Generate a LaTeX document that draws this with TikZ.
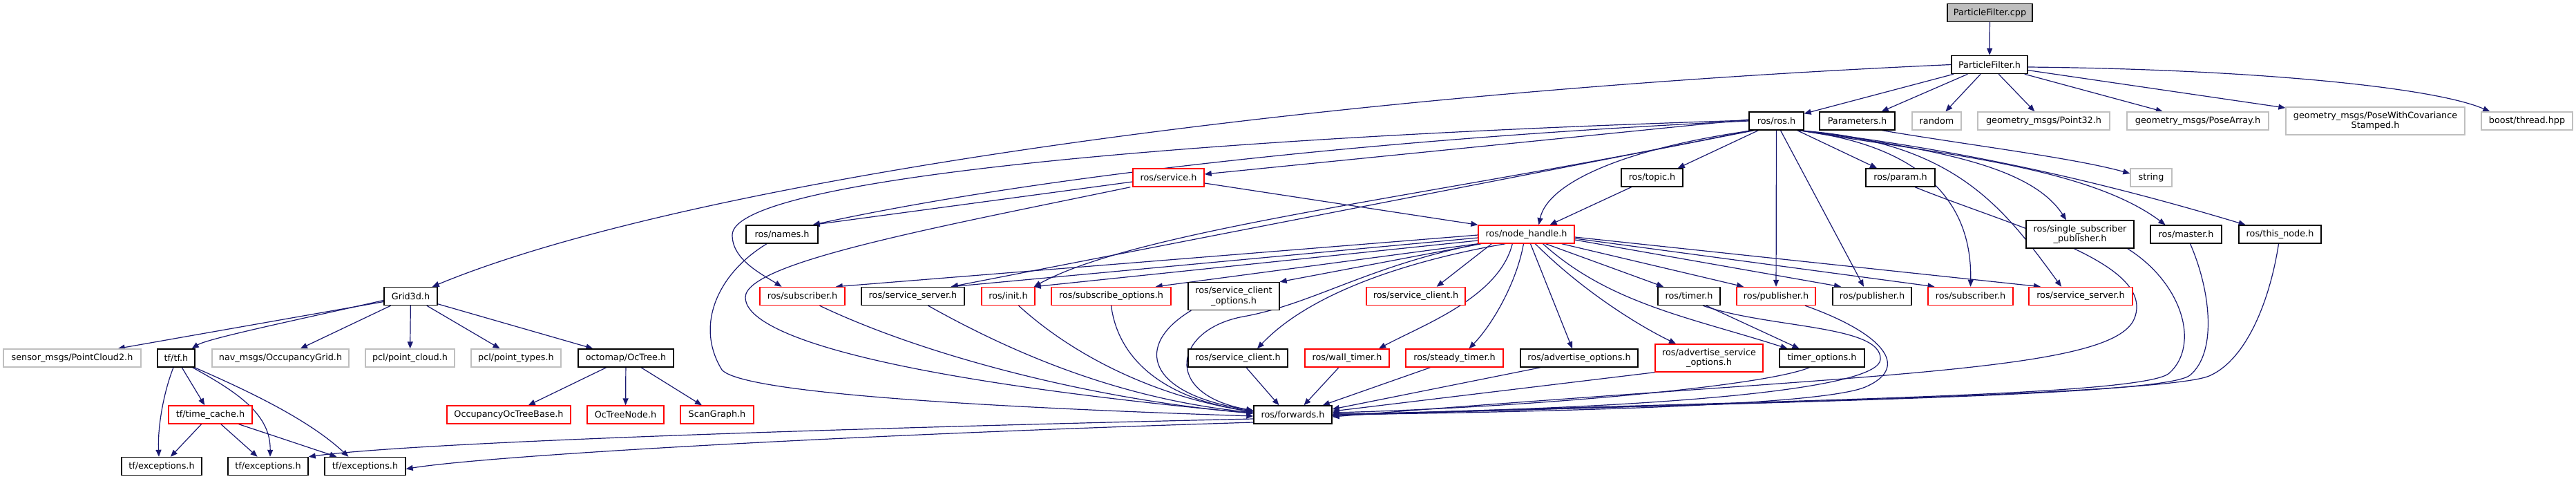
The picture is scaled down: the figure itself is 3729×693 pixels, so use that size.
\documentclass[tikz,border=0pt]{standalone}
\usepackage{fontspec}
\setmainfont{DejaVu Sans}
\usetikzlibrary{arrows.meta}
\pgfdeclarelayer{background}
\pgfsetlayers{background,main}
\definecolor{edgec}{HTML}{191970}
\definecolor{grayb}{HTML}{BFBFBF}
\definecolor{redb}{HTML}{FF0000}
\begin{document}
\begin{tikzpicture}[x=1pt,y=-1pt,
  nbox/.style={draw=black, line width=1.4pt, fill=white, inner sep=0pt, minimum height=26pt, font=\fontsize{12.8}{14.5}\selectfont, align=center},
  rbox/.style={nbox, draw=redb},
  gbox/.style={nbox, draw=grayb},
  rootbox/.style={nbox, fill=grayb},
  tall/.style={minimum height=40pt},
  edge/.style={draw=edgec, line width=1.2pt, -{Triangle[length=10pt,width=8pt]}}
]
\useasboundingbox (0,0) rectangle (3729,693);
% row 0-1
\node[rootbox, minimum width=123pt] (pfcpp) at (2880.5,18.5) {ParticleFilter.cpp};
\node[nbox, minimum width=110pt] (pfh) at (2880,93.5) {ParticleFilter.h};
% row 2
\node[nbox, minimum width=79pt] (ros) at (2571.5,175) {ros/ros.h};
\node[nbox, minimum width=109pt] (params) at (2688.5,175) {Parameters.h};
\node[gbox, minimum width=71pt] (random) at (2803.5,175) {random};
\node[gbox, minimum width=191pt] (pt32) at (2958.5,175) {geometry\_msgs/Point32.h};
\node[gbox, minimum width=205pt] (posearr) at (3181.5,175) {geometry\_msgs/PoseArray.h};
\node[gbox, tall, minimum width=259pt] (posecov) at (3438.5,175) {geometry\_msgs/PoseWithCovariance\\Stamped.h};
\node[gbox, minimum width=132pt] (boost) at (3658,175) {boost/thread.hpp};
% row 3
\node[rbox, minimum width=103pt] (service) at (1691.5,257) {ros/service.h};
\node[nbox, minimum width=89pt] (topic) at (2391.5,257) {ros/topic.h};
\node[nbox, minimum width=100pt] (param) at (2751,257) {ros/param.h};
\node[gbox, minimum width=60pt] (string) at (3114,257) {string};
% row 4
\node[nbox, minimum width=104pt] (names) at (1132,339) {ros/names.h};
\node[rbox, minimum width=139pt] (nh) at (2209.5,339) {ros/node\_handle.h};
\node[nbox, tall, minimum width=156pt] (ssp) at (3011,339) {ros/single\_subscriber\\\_publisher.h};
\node[nbox, minimum width=103pt] (master) at (3164.5,339) {ros/master.h};
\node[nbox, minimum width=119pt] (thisnode) at (3300.5,339) {ros/this\_node.h};
% row 5
\node[nbox, minimum width=77pt] (grid) at (594.5,428.5) {Grid3d.h};
\node[rbox, minimum width=123pt] (sub1) at (1161.5,428.5) {ros/subscriber.h};
\node[nbox, minimum width=149pt] (srvsrv1) at (1321.5,428.5) {ros/service\_server.h};
\node[rbox, minimum width=77pt] (init) at (1459.5,428.5) {ros/init.h};
\node[rbox, minimum width=173pt] (subopts) at (1608.5,428.5) {ros/subscribe\_options.h};
\node[nbox, tall, minimum width=132pt] (scopts) at (1786,428.5) {ros/service\_client\\\_options.h};
\node[rbox, minimum width=143pt] (screl) at (2049.5,428.5) {ros/service\_client.h};
\node[nbox, minimum width=90pt] (timer) at (2445,428.5) {ros/timer.h};
\node[rbox, minimum width=114pt] (pubR) at (2571,428.5) {ros/publisher.h};
\node[nbox, minimum width=114pt] (pubB) at (2710,428.5) {ros/publisher.h};
\node[rbox, minimum width=123pt] (sub2) at (2852.5,428.5) {ros/subscriber.h};
\node[rbox, minimum width=150pt] (srvsrv2) at (3012,428.5) {ros/service\_server.h};
% row 6
\node[gbox, minimum width=199pt] (sensor) at (104.5,518) {sensor\_msgs/PointCloud2.h};
\node[nbox, minimum width=54pt] (tf) at (255,518) {tf/tf.h};
\node[gbox, minimum width=198pt] (nav) at (406,518) {nav\_msgs/OccupancyGrid.h};
\node[gbox, minimum width=129pt] (pclcloud) at (593.5,518) {pcl/point\_cloud.h};
\node[gbox, minimum width=130pt] (pcltypes) at (747,518) {pcl/point\_types.h};
\node[nbox, minimum width=138pt] (octree) at (906,518) {octomap/OcTree.h};
\node[nbox, minimum width=144pt] (sc) at (1792,518) {ros/service\_client.h};
\node[rbox, minimum width=122pt] (walltimer) at (1950,518) {ros/wall\_timer.h};
\node[rbox, minimum width=141pt] (steady) at (2105.5,518) {ros/steady\_timer.h};
\node[nbox, minimum width=170pt] (advopts) at (2286,518) {ros/advertise\_options.h};
\node[rbox, tall, minimum width=156pt] (advsrv) at (2474,518) {ros/advertise\_service\\\_options.h};
\node[nbox, minimum width=123pt] (timeropts) at (2637.5,518) {timer\_options.h};
% row 7
\node[rbox, minimum width=121pt] (timecache) at (304.5,600) {tf/time\_cache.h};
\node[rbox, minimum width=179pt] (occbase) at (736.5,600) {OccupancyOcTreeBase.h};
\node[rbox, minimum width=111pt] (octnode) at (905.5,600) {OcTreeNode.h};
\node[rbox, minimum width=106pt] (scangraph) at (1038,600) {ScanGraph.h};
\node[nbox, minimum width=113pt] (fwd) at (1871.5,600) {ros/forwards.h};
% row 8
\node[nbox, minimum width=116pt] (exc1) at (234,674.5) {tf/exceptions.h};
\node[nbox, minimum width=116pt] (exc2) at (388,674.5) {tf/exceptions.h};
\node[nbox, minimum width=117pt] (exc3) at (528.5,674.5) {tf/exceptions.h};

\begin{pgfonlayer}{background}
% ---------- edges ----------
\draw[edge] (pfcpp) -- (pfh);
\draw[edge] (pfh) -- (ros);
\draw[edge] (pfh) -- ([xshift=-20pt]params.north east);
\draw[edge] (pfh) -- (random);
\draw[edge] (pfh) -- (pt32);
\draw[edge] (pfh) -- (posearr);
\draw[edge] (pfh) -- (posecov);
\draw[edge] ([yshift=-3.5pt]pfh.east) .. controls (3250,100) and (3520,125) .. ([xshift=13pt]boost.north west);
\draw[edge] (pfh.west) .. controls (1900,135) and (1000,260) .. ([xshift=-8pt]grid.north east);

% Parameters
\draw[edge] ([xshift=36pt]params.south) .. controls (2850,210) and (3000,228) .. ([yshift=6pt]string.west);

% Grid3d
\draw[edge] ([yshift=-8pt]grid.west) -- ([xshift=-34pt]sensor.north east);
\draw[edge] ([yshift=-6pt]grid.west) .. controls (420,465) and (300,490) .. ([xshift=-5pt]tf.north east);
\draw[edge] (grid) -- (nav);
\draw[edge] (grid) -- (pclcloud);
\draw[edge] (grid) -- (pcltypes);
\draw[edge] (grid) -- (octree);

% tf
\draw[edge] ([xshift=-4pt]tf.south) .. controls (236,570) and (228,620) .. ([xshift=-4pt]exc1.north);
\draw[edge] (tf) -- (timecache);
\draw[edge] ([xshift=-4pt]tf.south east) .. controls (345,568) and (392,600) .. ([xshift=3pt]exc2.north);
\draw[edge] ([xshift=-1pt]tf.south east) .. controls (370,570) and (450,610) .. ([xshift=-24pt]exc3.north);
\draw[edge] (timecache) -- (exc1);
\draw[edge] (timecache) -- (exc2);
\draw[edge] (timecache) -- (exc3);

% octree
\draw[edge] (octree) -- (occbase);
\draw[edge] (octree) -- (octnode);
\draw[edge] (octree) -- (scangraph);

% forwards -> exceptions
\draw[edge] ([yshift=-6pt]fwd.west) .. controls (1200,620) and (600,640) .. (exc2.north east);
\draw[edge] ([yshift=-11pt]fwd.west) .. controls (1200,630) and (700,660) .. ([yshift=-4pt]exc3.east);

% ros/ros.h
\draw[edge] ([yshift=2pt]ros.west) -- ([yshift=5pt]service.east);
\draw[edge] (ros.west) .. controls (2000,200) and (1500,255) .. ([xshift=-8pt]names.north east);
\draw[edge] ([yshift=1pt]ros.west) .. controls (1700,200) and (1060,260) .. (1060,340) .. controls (1060,375) and (1100,395) .. ([xshift=-30pt]sub1.north);
\draw[edge] ([xshift=8pt]ros.south west) -- ([xshift=-20pt]srvsrv1.north east);
\draw[edge] ([xshift=3pt]ros.south west) .. controls (2100,280) and (1650,330) .. ([xshift=-2pt]init.north east);
\draw[edge] ([xshift=14pt]ros.south west) -- ([xshift=-8pt]topic.north east);
\draw[edge] ([xshift=6pt]ros.south west) .. controls (2350,215) and (2240,265) .. ([xshift=18pt]nh.north);
\draw[edge] ([xshift=-10pt]ros.south east) -- ([xshift=-34pt]param.north);
\draw[edge] (ros) -- (pubR);
\draw[edge] ([xshift=6pt]ros.south) -- ([xshift=-12pt]pubB.north);
\draw[edge] ([xshift=-7pt]ros.south east) .. controls (2800,215) and (2940,240) .. ([xshift=-20pt]ssp.north);
\draw[edge] ([xshift=-6pt]ros.south east) .. controls (2800,222) and (3020,240) .. ([xshift=-30pt]master.north);
\draw[edge] ([xshift=-5pt]ros.south east) .. controls (2800,212) and (3000,250) .. ([xshift=-50pt]thisnode.north);
\draw[edge] ([xshift=-9pt]ros.south east) .. controls (2780,210) and (2855,290) .. (sub2.north);
\draw[edge] ([xshift=-8pt]ros.south east) .. controls (2830,205) and (2900,300) .. ([xshift=-28pt]srvsrv2.north);

% ros/service.h
\draw[edge] ([yshift=-6pt]service.west) -- ([xshift=-8pt]names.north east);
\draw[edge] ([yshift=-8pt]service.east) -- (nh.north west);
\draw[edge] ([xshift=-3pt]service.south west) .. controls (1350,330) and (1080,380) .. (1079,430) .. controls (1078,480) and (1250,545) .. ([yshift=2pt]fwd.west);

% ros/names.h
\draw[edge] ([xshift=-22pt]names.south) .. controls (1040,395) and (1005,470) .. (1045,535) .. controls (1075,570) and (1450,590) .. ([yshift=-2pt]fwd.west);

% topic, param
\draw[edge] ([xshift=-30pt]topic.south) -- ([xshift=34pt]nh.north);
\draw[edge] ([xshift=21pt]param.south) .. controls (2920,330) and (3120,380) .. (3090,460) .. controls (3060,540) and (2700,540) .. ([yshift=-3pt]fwd.east);

% ssp, master, this_node
\draw[edge] ([xshift=-10pt]ssp.south east) .. controls (3160,410) and (3185,500) .. (3140,540) .. controls (3100,575) and (2500,580) .. ([yshift=-1pt]fwd.east);
\draw[edge] ([xshift=6pt]master.south) .. controls (3200,420) and (3210,510) .. (3170,543) .. controls (3130,575) and (2500,582) .. ([yshift=-1pt]fwd.east);
\draw[edge] ([xshift=-2pt]thisnode.south) .. controls (3285,440) and (3250,520) .. (3200,543) .. controls (3150,570) and (2500,584) .. ([yshift=-1pt]fwd.east);

% ros/node_handle.h
\draw[edge] ([yshift=-1pt]nh.west) -- ([xshift=-14pt]sub1.north east);
\draw[edge] ([yshift=-5pt]nh.west) -- ([xshift=-20pt]srvsrv1.north east);
\draw[edge] ([yshift=-9pt]nh.west) -- ([xshift=-2pt]init.north east);
\draw[edge] (nh.south west) -- ([xshift=-23pt]subopts.north east);
\draw[edge] ([xshift=5pt]nh.south west) -- (scopts.north east);
\draw[edge] ([xshift=20pt]nh.south west) -- ([xshift=-42pt]screl.north east);
\draw[edge] ([xshift=40pt]nh.south west) .. controls (2050,375) and (1900,420) .. ([xshift=28pt]sc.north);
\draw[edge] ([xshift=50pt]nh.south west) .. controls (2170,430) and (2060,470) .. ([xshift=46pt]walltimer.north);
\draw[edge] ([xshift=-4pt]nh.south) .. controls (2195,410) and (2160,470) .. ([xshift=21pt]steady.north);
\draw[edge] ([xshift=6pt]nh.south) -- ([xshift=-10pt]advopts.north);
\draw[edge] ([xshift=13pt]nh.south) .. controls (2290,420) and (2370,470) .. ([xshift=-48pt]advsrv.north);
\draw[edge] ([xshift=24pt]nh.south) .. controls (2330,440) and (2450,460) .. ([xshift=-50pt]timeropts.north);
\draw[edge] ([xshift=28pt]nh.south) -- ([xshift=-37pt]timer.north);
\draw[edge] ([xshift=-19pt]nh.south east) -- ([xshift=-47pt]pubR.north);
\draw[edge] ([yshift=-8pt]nh.east) -- ([xshift=-45pt]pubB.north);
\draw[edge] ([yshift=-6pt]nh.east) -- ([xshift=-52pt]sub2.north);
\draw[edge] ([yshift=-4pt]nh.east) -- ([xshift=-58pt]srvsrv2.north);
\draw[edge] ([xshift=2pt]nh.south west) .. controls (1980,385) and (1900,440) .. (1800,458) .. controls (1700,476) and (1680,570) .. ([yshift=6pt]fwd.west);

% into forwards
\draw[edge] ([xshift=25pt]sub1.south) .. controls (1350,520) and (1600,580) .. ([yshift=2pt]fwd.west);
\draw[edge] ([xshift=22pt]srvsrv1.south) .. controls (1500,530) and (1650,580) .. ([yshift=3pt]fwd.west);
\draw[edge] ([xshift=15pt]init.south) .. controls (1560,520) and (1680,575) .. ([yshift=4pt]fwd.west);
\draw[edge] (subopts.south) .. controls (1620,530) and (1700,580) .. ([yshift=5pt]fwd.west);
\draw[edge] ([xshift=5pt]scopts.south west) .. controls (1640,500) and (1660,570) .. ([yshift=6pt]fwd.west);
\draw[edge] ([xshift=12pt]sc.south) -- ([xshift=-20pt]fwd.north);
\draw[edge] ([xshift=-12pt]walltimer.south) -- ([xshift=16pt]fwd.north);
\draw[edge] ([xshift=-35pt]steady.south) -- ([xshift=-14pt]fwd.north east);
\draw[edge] ([xshift=-56pt]advopts.south) -- ([yshift=8pt]fwd.east);
\draw[edge] (advsrv.south west) -- ([yshift=5pt]fwd.east);
\draw[edge] ([xshift=-18pt]timeropts.south) .. controls (2550,560) and (2200,590) .. ([yshift=3pt]fwd.east);
\draw[edge] ([xshift=25pt]timer.south) -- ([xshift=-33pt]timeropts.north);
\draw[edge] ([xshift=20pt]timer.south) .. controls (2560,475) and (2725,470) .. (2722,520) .. controls (2720,560) and (2450,590) .. ([yshift=1pt]fwd.east);
\draw[edge] ([xshift=42pt]pubR.south) .. controls (2720,480) and (2770,530) .. (2700,560) .. controls (2640,585) and (2300,595) .. ([yshift=0pt]fwd.east);
\end{pgfonlayer}
\end{tikzpicture}
\end{document}
